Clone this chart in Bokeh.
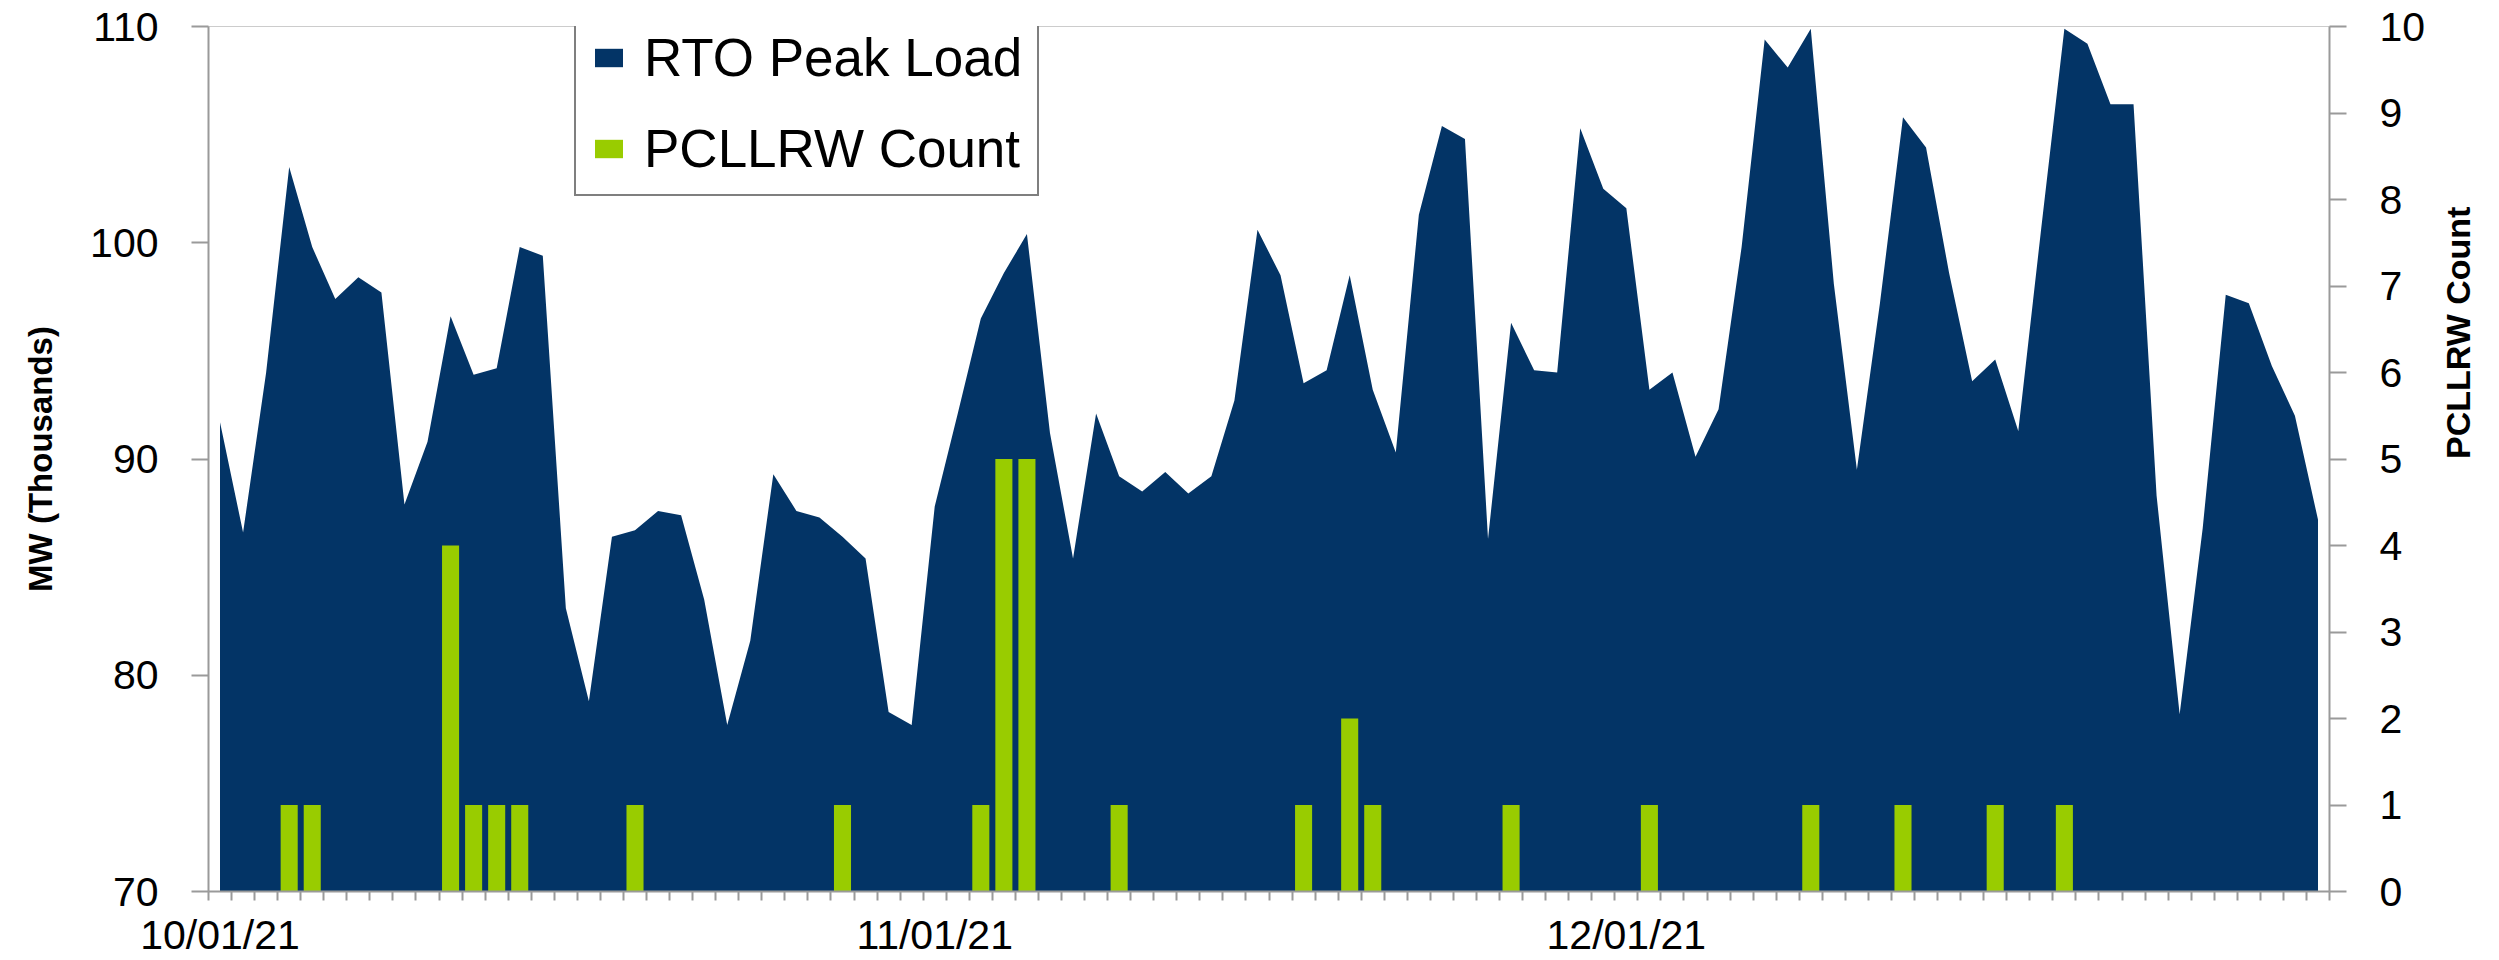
import math
import pandas as pd
from bokeh.plotting import figure
from bokeh.models import (Range1d, LinearAxis, FixedTicker, Legend, LegendItem,
                          ColumnDataSource)
from bokeh.embed import file_html
from bokeh.resources import INLINE

# ---------------- data ----------------
dates = pd.date_range("2021-10-01", "2021-12-31", freq="D")

rto_peak_load = [
    91.7, 86.6, 94.0, 103.5, 99.8, 97.4, 98.4, 97.7, 87.9, 90.8,
    96.6, 93.9, 94.2, 99.8, 99.4, 83.1, 78.8, 86.4, 86.7, 87.6,
    87.4, 83.5, 77.7, 81.6, 89.3, 87.6, 87.3, 86.4, 85.4, 78.3,
    77.7, 87.8, 92.1, 96.5, 98.6, 100.4, 91.2, 85.4, 92.1, 89.2,
    88.5, 89.4, 88.4, 89.2, 92.7, 100.6, 98.5, 93.5, 94.1, 98.5,
    93.2, 90.3, 101.3, 105.4, 104.8, 86.3, 96.3, 94.1, 94.0, 105.3,
    102.5, 101.6, 93.2, 94.0, 90.1, 92.3, 99.8, 109.4, 108.1, 109.9,
    98.1, 89.5, 97.2, 105.8, 104.4, 98.6, 93.6, 94.6, 91.3, 100.7,
    109.9, 109.2, 106.4, 106.4, 88.3, 78.2, 86.8, 97.6, 97.2, 94.3,
    92.0, 87.2,
]

pcllrw_count = [
    0, 0, 0, 1, 1, 0, 0, 0, 0, 0,
    4, 1, 1, 1, 0, 0, 0, 0, 1, 0,
    0, 0, 0, 0, 0, 0, 0, 1, 0, 0,
    0, 0, 0, 1, 5, 5, 0, 0, 0, 1,
    0, 0, 0, 0, 0, 0, 0, 1, 0, 2,
    1, 0, 0, 0, 0, 0, 1, 0, 0, 0,
    0, 0, 1, 0, 0, 0, 0, 0, 0, 1,
    0, 0, 0, 1, 0, 0, 0, 1, 0, 0,
    1, 0, 0, 0, 0, 0, 0, 0, 0, 0,
    0, 0,
]

left_ticks = [70, 80, 90, 100, 110]
right_ticks = [0, 1, 2, 3, 4, 5, 6, 7, 8, 9, 10]

# ---------------- styling constants ----------------
NAVY = "#033466"
GREEN = "#99cc00"
AXIS_GRAY = "#9a9a9a"
FONT = "'Liberation Sans', Arial, sans-serif"

n = len(dates)
xpos = [i + 0.5 for i in range(n)]
src = ColumnDataSource(dict(x=xpos, load=rto_peak_load, count=pcllrw_count))

p = figure(width=2499, height=960, output_backend="svg", toolbar_location=None,
           x_range=Range1d(0, n), y_range=Range1d(70, 110),
           min_border_left=208, min_border_right=167, min_border_top=26,
           min_border_bottom=67)
p.extra_y_ranges = {"count": Range1d(0, 10)}
p.xgrid.visible = False
p.ygrid.visible = False
p.outline_line_color = "#cccccc"
p.outline_line_width = 1
p.background_fill_color = "white"
p.border_fill_color = "white"

area = p.varea(x="x", y1=70, y2="load", source=src, fill_color=NAVY)
bars = p.vbar(x="x", top="count", bottom=0, width=0.74, source=src,
              y_range_name="count", fill_color=GREEN, line_color=None)

# x axis
month_pos = [i + 0.5 for i, d in enumerate(dates) if d.day == 1]
month_lab = [d.strftime("%m/%d/%y") for d in dates if d.day == 1]
xa = p.xaxis[0]
xa.ticker = FixedTicker(ticks=month_pos, minor_ticks=list(range(n + 1)))
xa.major_label_overrides = {pos: lab for pos, lab in zip(month_pos, month_lab)}
xa.major_tick_out = 0
xa.major_tick_in = 0
xa.major_tick_line_color = None
xa.minor_tick_out = 9
xa.minor_tick_in = 0
xa.minor_tick_line_color = AXIS_GRAY
xa.minor_tick_line_width = 2
xa.axis_line_color = AXIS_GRAY
xa.axis_line_width = 2
xa.major_label_text_font = FONT
xa.major_label_text_font_size = "41px"
xa.major_label_text_color = "black"
xa.major_label_standoff = 11

# left axis
ya = p.yaxis[0]
ya.ticker = FixedTicker(ticks=left_ticks)
ya.major_tick_out = 17
ya.major_tick_in = 0
ya.minor_tick_out = 0
ya.minor_tick_in = 0
ya.major_tick_line_color = AXIS_GRAY
ya.major_tick_line_width = 2
ya.axis_line_color = AXIS_GRAY
ya.axis_line_width = 2
ya.major_label_text_font = FONT
ya.major_label_text_font_size = "41px"
ya.major_label_text_color = "black"
ya.major_label_standoff = 33
ya.axis_label = "MW (Thousands)"
ya.axis_label_text_font = FONT
ya.axis_label_text_font_style = "bold"
ya.axis_label_text_font_size = "33px"
ya.axis_label_text_color = "black"
ya.axis_label_standoff = 28

# right axis
ra = LinearAxis(y_range_name="count", ticker=FixedTicker(ticks=right_ticks))
ra.major_tick_out = 17
ra.major_tick_in = 0
ra.minor_tick_out = 0
ra.minor_tick_in = 0
ra.major_tick_line_color = AXIS_GRAY
ra.major_tick_line_width = 2
ra.axis_line_color = AXIS_GRAY
ra.axis_line_width = 2
ra.major_label_text_font = FONT
ra.major_label_text_font_size = "41px"
ra.major_label_text_color = "black"
ra.major_label_standoff = 33
ra.axis_label = "PCLLRW Count"
ra.axis_label_text_font = FONT
ra.axis_label_text_font_style = "bold"
ra.axis_label_text_font_size = "34px"
ra.axis_label_text_color = "black"
ra.axis_label_standoff = 30
try:
    ra.axis_label_orientation = math.pi / 2
except Exception:
    pass
p.add_layout(ra, "right")

legend = Legend(items=[LegendItem(label="RTO Peak Load", renderers=[area]),
                       LegendItem(label="PCLLRW Count", renderers=[bars])],
                location=(366, 695))
legend.label_text_font = FONT
legend.label_text_font_size = "53px"
legend.label_text_color = "black"
legend.glyph_width = 35
legend.glyph_height = 23
legend.label_standoff = 18
legend.padding = 15
legend.spacing = 30
legend.margin = 0
legend.border_line_color = "black"
legend.border_line_width = 2
legend.background_fill_color = "white"
legend.background_fill_alpha = 1.0
p.add_layout(legend)

open("out.html", "w").write(file_html(p, INLINE))
